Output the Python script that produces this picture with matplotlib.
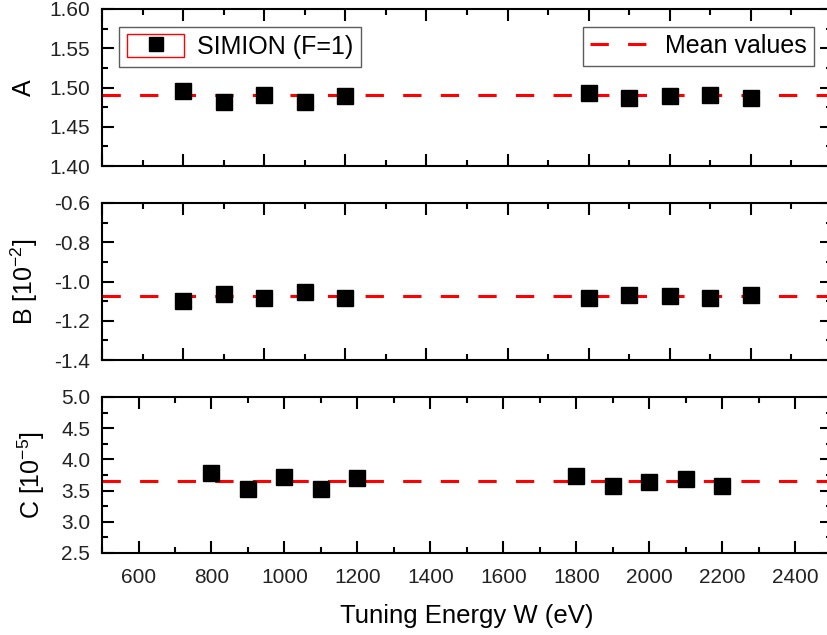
import numpy as np
import matplotlib
matplotlib.use('Agg')
import matplotlib.pyplot as plt
from matplotlib.ticker import MultipleLocator, FormatStrFormatter, NullFormatter
from matplotlib.patches import Rectangle
from matplotlib.lines import Line2D
from matplotlib.legend_handler import HandlerTuple

plt.rcParams['font.family'] = ['Liberation Sans', 'DejaVu Sans']
plt.rcParams['mathtext.fontset'] = 'custom'
plt.rcParams['mathtext.rm'] = 'Liberation Sans'
plt.rcParams['mathtext.it'] = 'Liberation Sans:italic'
plt.rcParams['axes.unicode_minus'] = False

# data
energy = [800, 900, 1000, 1100, 1200, 1800, 1900, 2000, 2100, 2200]
A_vals = [1.495, 1.482, 1.490, 1.482, 1.489, 1.493, 1.487, 1.489, 1.491, 1.486]
B_vals = [-1.097, -1.063, -1.085, -1.056, -1.085, -1.085, -1.069, -1.076, -1.084, -1.069]
C_vals = [3.79, 3.52, 3.72, 3.52, 3.70, 3.74, 3.58, 3.64, 3.69, 3.58]
A_mean = 1.490
B_mean = -1.075
C_mean = 3.66

fig = plt.figure(figsize=(8.28, 6.35), dpi=100)
W, H = 828.0, 635.0
left = 102 / W
width = 730 / W
ax1 = fig.add_axes([left, 1 - 166 / H, width, 157 / H])
ax2 = fig.add_axes([left, 1 - 360 / H, width, 157 / H])
ax3 = fig.add_axes([left, 1 - 553 / H, width, 156 / H])

panels = [
    (ax1, A_vals, A_mean, (1.40, 1.60), 0.05, 'A', '%.2f', (600, 2400)),
    (ax2, B_vals, B_mean, (-1.4, -0.6), 0.2, 'B [10$^{-2}$]', '%.1f', (600, 2400)),
    (ax3, C_vals, C_mean, (2.5, 5.0), 0.5, 'C [10$^{-5}$]', '%.1f', (500, 2500)),
]

for ax, vals, mean, ylim, ystep, ylabel, fmt, xlim in panels:
    ax.plot(energy, vals, 's', color='black', markersize=11, zorder=3)
    ax.axhline(mean, color='red', lw=2.2, dashes=(6, 6.3), zorder=2)
    ax.set_xlim(xlim)
    ax.set_ylim(ylim)
    ax.xaxis.set_major_locator(MultipleLocator(200))
    ax.xaxis.set_minor_locator(MultipleLocator(100))
    ax.yaxis.set_major_locator(MultipleLocator(ystep))
    ax.yaxis.set_minor_locator(MultipleLocator(ystep / 2))
    ax.yaxis.set_major_formatter(FormatStrFormatter(fmt))
    ax.tick_params(which='both', direction='in', top=True, right=True, width=1.5,
                   labelsize=15, labelcolor='#222222')
    ax.tick_params(which='major', length=8.5)
    ax.tick_params(axis='y', which='major', pad=8.5)
    ax.tick_params(axis='x', which='major', pad=11)
    ax.tick_params(which='minor', length=4.5)
    for s in ax.spines.values():
        s.set_linewidth(1.5)
    ax.set_ylabel(ylabel, fontsize=18, labelpad=10)

ax1.xaxis.set_major_formatter(NullFormatter())
ax2.xaxis.set_major_formatter(NullFormatter())
ax3.set_xlabel('Tuning Energy W (eV)', fontsize=18.5, labelpad=12)

# legends in the top panel
sim_handle = (Rectangle((0, 0), 1, 1, facecolor='none', edgecolor='red', lw=1),
              Line2D([], [], marker='s', color='black', ls='none', markersize=10.5))
leg1 = ax1.legend([sim_handle], ['SIMION (F=1)'], handler_map={tuple: HandlerTuple(ndivide=1)},
                  loc='upper left', fontsize=18, frameon=True, fancybox=False,
                  edgecolor='#333333', handlelength=2.3, handleheight=1.05,
                  borderpad=0.3, borderaxespad=0.7, handletextpad=0.5)
leg1.get_frame().set_linewidth(1.0)
ax1.add_artist(leg1)

mean_handle = Line2D([], [], color='red', lw=2.2, dashes=(6, 6.3))
leg2 = ax1.legend([mean_handle], ['Mean values'], loc='upper right', fontsize=18,
                  frameon=True, fancybox=False, edgecolor='#333333', handlelength=2.5,
                  borderpad=0.3, borderaxespad=0.7, handletextpad=0.5)
leg2.get_frame().set_linewidth(1.0)

plt.savefig('out.png', dpi=100)
